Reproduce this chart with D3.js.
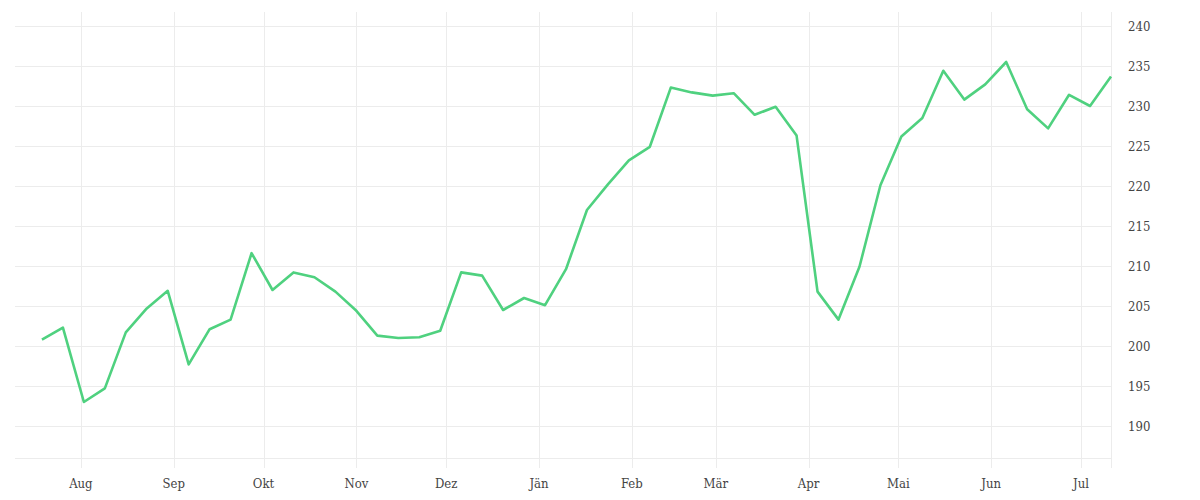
<!DOCTYPE html>
<html>
<head>
<meta charset="utf-8">
<script src="https://cdn.jsdelivr.net/npm/d3@7"></script>
<style>
  body { margin: 0; background: #fff; }
  svg text { font-family: "DejaVu Serif Condensed", "DejaVu Serif", serif; fill: #444; }
</style>
</head>
<body>
<svg id="chart" width="1200" height="500"></svg>
<script>
// weekly values, first week 2022-07-19
const startDate = "2022-07-19";
const values = [
  200.8, 202.3, 193.0, 194.7, 201.7, 204.7, 206.9, 197.7, 202.1, 203.3,
  211.6, 207.0, 209.2, 208.6, 206.8, 204.4, 201.3, 201.0, 201.1, 201.9,
  209.2, 208.8, 204.5, 206.0, 205.1, 209.6, 217.0, 220.2, 223.2, 224.9,
  232.3, 231.7, 231.3, 231.6, 228.9, 229.9, 226.3, 206.8, 203.3, 209.9,
  220.1, 226.2, 228.5, 234.4, 230.8, 232.7, 235.5, 229.6, 227.2, 231.4,
  230.0, 233.7
];
const monthLabels = ["Aug", "Sep", "Okt", "Nov", "Dez", "Jän", "Feb", "Mär", "Apr", "Mai", "Jun", "Jul"];
const yTicks = [190, 195, 200, 205, 210, 215, 220, 225, 230, 235, 240];
const xDomain = ["2022-07-10", "2023-07-11"];
const yDomain = [186, 241.75];

(function() {
  const parse = d3.timeParse("%Y-%m-%d");
  const t0 = parse(startDate);
  const data = values.map((v, i) => ({ date: d3.timeDay.offset(t0, i * 7), value: v }));

  const left = 15, right = 1111, top = 12, bottom = 458;
  const svg = d3.select("#chart");

  const x = d3.scaleTime().domain(xDomain.map(parse)).range([left, right]);
  const y = d3.scaleLinear().domain(yDomain).range([bottom, top]);

  const months = d3.timeMonth.range(parse("2022-08-01"), parse("2023-07-02"));

  // grid
  const grid = svg.append("g").attr("stroke", "#ececec").attr("stroke-width", 1);
  grid.selectAll("line.h")
    .data(yTicks.concat([yDomain[0]]))
    .enter().append("line")
    .attr("class", "h")
    .attr("x1", left).attr("x2", right)
    .attr("y1", d => Math.round(y(d)) + 0.5)
    .attr("y2", d => Math.round(y(d)) + 0.5);
  grid.selectAll("line.v")
    .data(months.concat([x.domain()[1]]))
    .enter().append("line")
    .attr("class", "v")
    .attr("x1", d => Math.round(x(d)) + 0.5)
    .attr("x2", d => Math.round(x(d)) + 0.5)
    .attr("y1", top).attr("y2", bottom + 10);

  // x labels
  svg.append("g").selectAll("text")
    .data(months)
    .enter().append("text")
    .attr("x", d => x(d))
    .attr("y", 488)
    .attr("text-anchor", "middle")
    .style("font-size", "13px")
    .text((d, i) => monthLabels[i]);

  // y labels
  svg.append("g").selectAll("text")
    .data(yTicks)
    .enter().append("text")
    .attr("x", 1128)
    .attr("y", d => y(d) + 5)
    .style("font-size", "13px")
    .text(d => d);

  const line = d3.line().x(d => x(d.date)).y(d => y(d.value));
  svg.append("path")
    .datum(data)
    .attr("fill", "none")
    .attr("stroke", "#4fd17f")
    .attr("stroke-width", 2.6)
    .attr("stroke-linejoin", "round")
    .attr("d", line);
})();
</script>
</body>
</html>
